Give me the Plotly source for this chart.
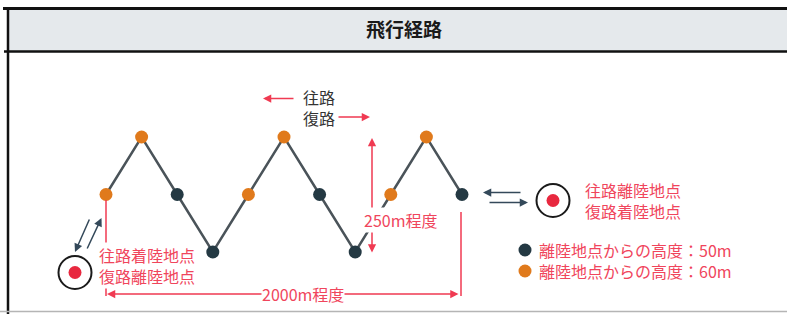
import plotly.graph_objects as go

# ---------------- data ----------------
waypoint_x_m = [0, 200, 400, 600, 800, 1000, 1200, 1400, 1600, 1800, 2000]
waypoint_y_m = [125, 250, 125, 0, 125, 250, 125, 0, 125, 250, 125]
waypoint_alt_m = [60, 60, 50, 50, 60, 60, 50, 50, 60, 60, 50]
legend_alts = [50, 60]
legend_labels = ["離陸地点からの高度：50m", "離陸地点からの高度：60m"]
title_text = "飛行経路"
left_site_labels = ["往路着陸地点", "復路離陸地点"]
right_site_labels = ["往路離陸地点", "復路着陸地点"]
direction_labels = ["往路", "復路"]
width_label = "2000m程度"
height_label = "250m程度"

# ---------------- styles ----------------
W, H = 787, 314
FONT = "Noto Sans CJK JP"
RED_TXT = "#f0455c"
RED = "#f03a52"
DOT_RED = "#e8283f"
DARK = "#243943"
ORANGE = "#e07a1c"
LINE = "#4a5359"
ARROW_DARK = "#34495a"
alt_color = {50: DARK, 60: ORANGE}

# axis calibration: waypoint origin at pixel (106, 252)
ox, oy, sx, sy = 106.0, 252.0, 0.178, 0.46
xr = [(0 - ox) / sx, (W - ox) / sx]
yr = [(oy - H) / sy, oy / sy]


def px(x):
    return x / W


def py(y):
    return 1 - y / H


fig = go.Figure()
fig.add_trace(go.Scatter(
    x=waypoint_x_m, y=waypoint_y_m, mode="lines+markers",
    line=dict(color=LINE, width=2.5),
    marker=dict(size=13, color=[alt_color[a] for a in waypoint_alt_m], line=dict(width=0)),
    showlegend=False, hoverinfo="skip", cliponaxis=False))

shapes = []
# header band
shapes.append(dict(type="rect", xref="paper", yref="paper", x0=px(8), x1=px(W), y0=py(51), y1=py(10),
                   fillcolor="#e5e9ec", line=dict(width=0), layer="below"))
shapes.append(dict(type="line", xref="paper", yref="paper", x0=px(3), x1=px(W), y0=py(8.5), y1=py(8.5),
                   line=dict(color="#111", width=3)))
shapes.append(dict(type="line", xref="paper", yref="paper", x0=px(4), x1=px(W), y0=py(51.5), y1=py(51.5),
                   line=dict(color="#111", width=2.5)))
shapes.append(dict(type="line", xref="paper", yref="paper", x0=px(8), x1=px(8), y0=py(7), y1=py(H),
                   line=dict(color="#111", width=2.5)))
shapes.append(dict(type="line", xref="paper", yref="paper", x0=px(0), x1=px(W), y0=py(311.5), y1=py(311.5),
                   line=dict(color="#b5b5b5", width=1.5)))
# red guide lines
shapes.append(dict(type="line", xref="paper", yref="paper", x0=px(106), x1=px(106), y0=py(200), y1=py(296),
                   line=dict(color=RED, width=1.5)))
shapes.append(dict(type="line", xref="paper", yref="paper", x0=px(461), x1=px(461), y0=py(212), y1=py(296),
                   line=dict(color=RED, width=1.5)))


def circle(cx, cy, r, fill=None, lw=0, lc=None):
    return dict(type="circle", xref="paper", yref="paper",
                x0=px(cx - r), x1=px(cx + r), y0=py(cy + r), y1=py(cy - r),
                fillcolor=fill if fill else "rgba(0,0,0,0)",
                line=dict(width=lw, color=lc if lc else "rgba(0,0,0,0)"))


# site markers
for cx, cy in [(75, 272.5), (553, 200.5)]:
    shapes.append(circle(cx, cy, 16.5, fill="white", lw=2, lc="#1a1a1a"))
    shapes.append(circle(cx, cy, 6.5, fill=DOT_RED))
# legend dots
for i, a in enumerate(legend_alts):
    shapes.append(circle(525, 250 + 21 * i, 6.5, fill=alt_color[a]))

anns = []


def arrow(hx, hy, tx, ty, color, both=False, w=1.5, size=1.1, head=2):
    anns.append(dict(xref="paper", yref="paper", x=px(hx), y=py(hy), axref="pixel", ayref="pixel",
                     ax=tx - hx, ay=ty - hy, text="", showarrow=True, arrowhead=head, startarrowhead=head,
                     arrowsize=size, startarrowsize=size, arrowwidth=w, arrowcolor=color,
                     arrowside="end+start" if both else "end", standoff=0, startstandoff=0))


def label(x, y, text, color=RED_TXT, size=16, xanchor="left", bg=None, weight="normal"):
    d = dict(xref="paper", yref="paper", x=px(x), y=py(y), text=text, showarrow=False,
             xanchor=xanchor, yanchor="middle", align="left",
             font=dict(family=FONT, size=size, color=color, weight=weight))
    if bg:
        d.update(bgcolor=bg, borderpad=0)
    anns.append(d)


# arrows
arrow(107, 294, 460, 294, RED, both=True)
arrow(372, 138, 372, 254, RED, both=True)
arrow(263, 98.5, 295, 98.5, RED)
arrow(370, 117, 337, 117, RED)
arrow(75, 252, 90, 218, ARROW_DARK)
arrow(101.5, 218, 86.5, 250, ARROW_DARK)
arrow(483, 192.5, 522, 192.5, ARROW_DARK)
arrow(528, 202.5, 488, 202.5, ARROW_DARK)

# texts
label(404, 29, title_text, color="#1a1a1a", size=19, xanchor="center", weight="bold")
label(301, 108, "<br>".join(direction_labels), color="#333333")
label(303, 294, width_label, xanchor="center", bg="white")
label(400, 220, height_label, xanchor="center", bg="white")
label(98, 265.5, "<br>".join(left_site_labels), bg="white")
label(583, 200.5, "<br>".join(right_site_labels))
for i, t in enumerate(legend_labels):
    label(537, 250 + 21 * i, t)

fig.update_layout(
    width=W, height=H, margin=dict(l=0, r=0, t=0, b=0),
    paper_bgcolor="white", plot_bgcolor="white",
    xaxis=dict(range=xr, visible=False, fixedrange=True),
    yaxis=dict(range=yr, visible=False, fixedrange=True),
    shapes=shapes, annotations=anns, showlegend=False,
)
fig.write_html(
    "out.html",
    config={"displayModeBar": False, "staticPlot": True},
    post_script="document.body.style.margin='0';document.body.style.overflow='hidden';",
)
